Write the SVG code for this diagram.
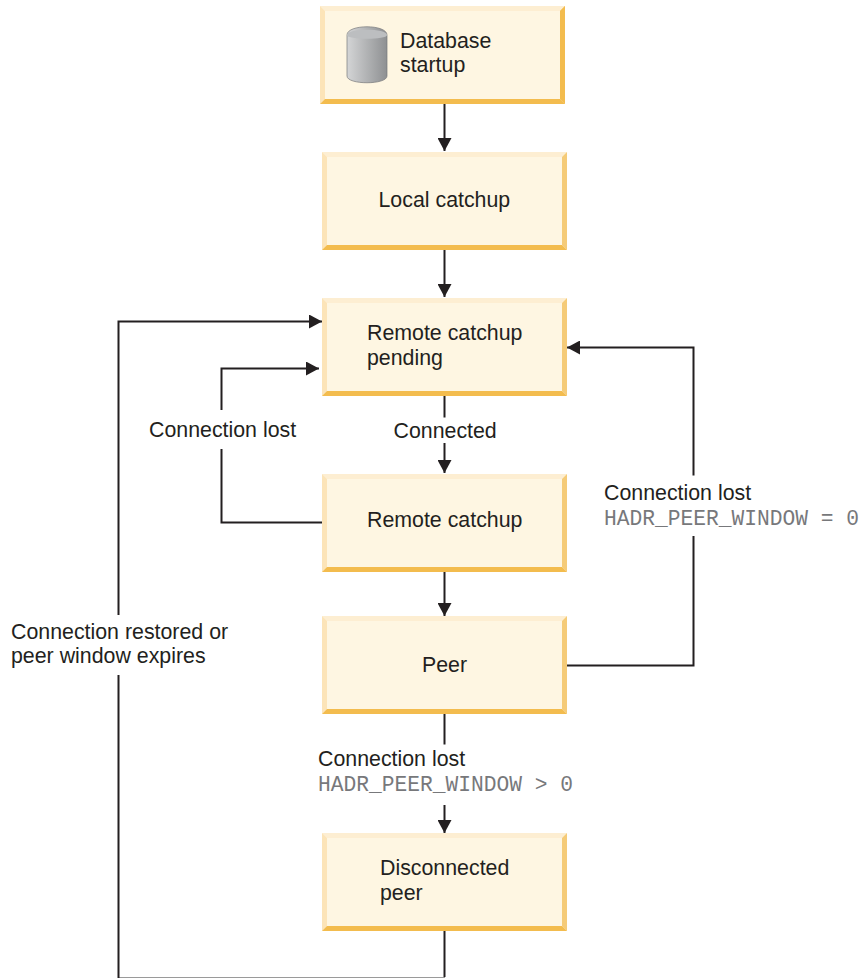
<svg xmlns="http://www.w3.org/2000/svg" width="859" height="978" viewBox="0 0 859 978">
<style>
.f{fill:#fef6e2}.t{fill:#fdeed2}.l{fill:#fce4b8}.r{fill:#f5cb78}.b{fill:#f3bc4e}
text{font-family:"Liberation Sans",Arial,sans-serif;font-size:21.35px;fill:#231f20}
text.m{font-family:"Liberation Mono","Courier New",monospace;font-size:21.25px;fill:#77787b}
.c{fill:none;stroke:#231f20;stroke-width:2}
</style>
<defs>
<symbol id="box" width="245" height="98" viewBox="0 0 245 98">
<rect class="f" width="245" height="98"/>
<polygon class="t" points="0,0 245,0 240,5 5,5"/>
<polygon class="l" points="0,0 5,5 5,93 0,98"/>
<polygon class="r" points="245,0 245,98 240,93 240,5"/>
<polygon class="b" points="0,98 5,93 240,93 245,98"/>
</symbol>
<linearGradient id="cyl" x1="0" x2="1" y1="0" y2="0"><stop offset="0" stop-color="#d4d5d6"/><stop offset="1" stop-color="#8e9092"/></linearGradient>
<marker id="a" markerUnits="userSpaceOnUse" markerWidth="13" markerHeight="14" refX="13" refY="7" orient="auto"><path d="M0,0L13,7L0,14Z" fill="#231f20"/></marker>
</defs>
<g id="connectors">
<path class="c" d="M444.500 104V151" marker-end="url(#a)"/>
<path class="c" d="M444.500 250V297" marker-end="url(#a)"/>
<path class="c" d="M444.500 396V417.500"/>
<path class="c" d="M444.500 443V473" marker-end="url(#a)"/>
<path class="c" d="M444.500 572V616" marker-end="url(#a)"/>
<path class="c" d="M444.500 714V744.500"/>
<path class="c" d="M444.500 805V833" marker-end="url(#a)"/>
<path class="c" d="M322 522.500H221.500V449"/>
<path class="c" d="M221.500 410V368.500H319" marker-end="url(#a)"/>
<path class="c" d="M567 665.500H693.500V536"/>
<path class="c" d="M693.500 475.500V347.500H567" marker-end="url(#a)"/>
<path class="c" d="M444.500 931V977"/>
<path d="M118 977.500H445" fill="none" stroke="#9a9a9a" stroke-width="1"/>
<path class="c" d="M118.500 978V675"/>
<path class="c" d="M118.500 615V321.500H322" marker-end="url(#a)"/>
</g>
<g id="n1"><use href="#box" x="320" y="6"/>
<polygon class="b" points="565,6 565,104 560,99 560,11"/>
<path d="M347 35C347 24 387 24 387 35V76C387 85 347 85 347 76Z" fill="url(#cyl)" stroke="#77787b" stroke-width=".7"/>
<path d="M347 35C347 28 387 28 387 35C387 40 347 40 347 35Z" fill="#bcbec0"/>
<text x="400" y="48">Database</text><text x="400" y="72">startup</text></g>
<g id="n2"><use href="#box" x="322" y="152"/><text x="378.500" y="207">Local catchup</text></g>
<g id="n3"><use href="#box" x="322" y="298"/><text x="367" y="340">Remote catchup</text><text x="367" y="365">pending</text></g>
<g id="n4"><use href="#box" x="322" y="474"/><text x="367" y="527">Remote catchup</text></g>
<g id="n5"><use href="#box" x="322" y="616"/><text x="422" y="672">Peer</text></g>
<g id="n6"><use href="#box" x="322" y="833"/><text x="380" y="875">Disconnected</text><text x="380" y="900">peer</text></g>
<g id="labels">
<text x="393.500" y="438">Connected</text>
<text x="149" y="437">Connection lost</text>
<text x="604" y="500">Connection lost</text>
<text class="m" x="604" y="524.500">HADR_PEER_WINDOW = 0</text>
<text x="11" y="639">Connection restored or</text>
<text x="11" y="663">peer window expires</text>
<text x="318" y="766">Connection lost</text>
<text class="m" x="318" y="790.500">HADR_PEER_WINDOW &gt; 0</text>
</g>
</svg>
